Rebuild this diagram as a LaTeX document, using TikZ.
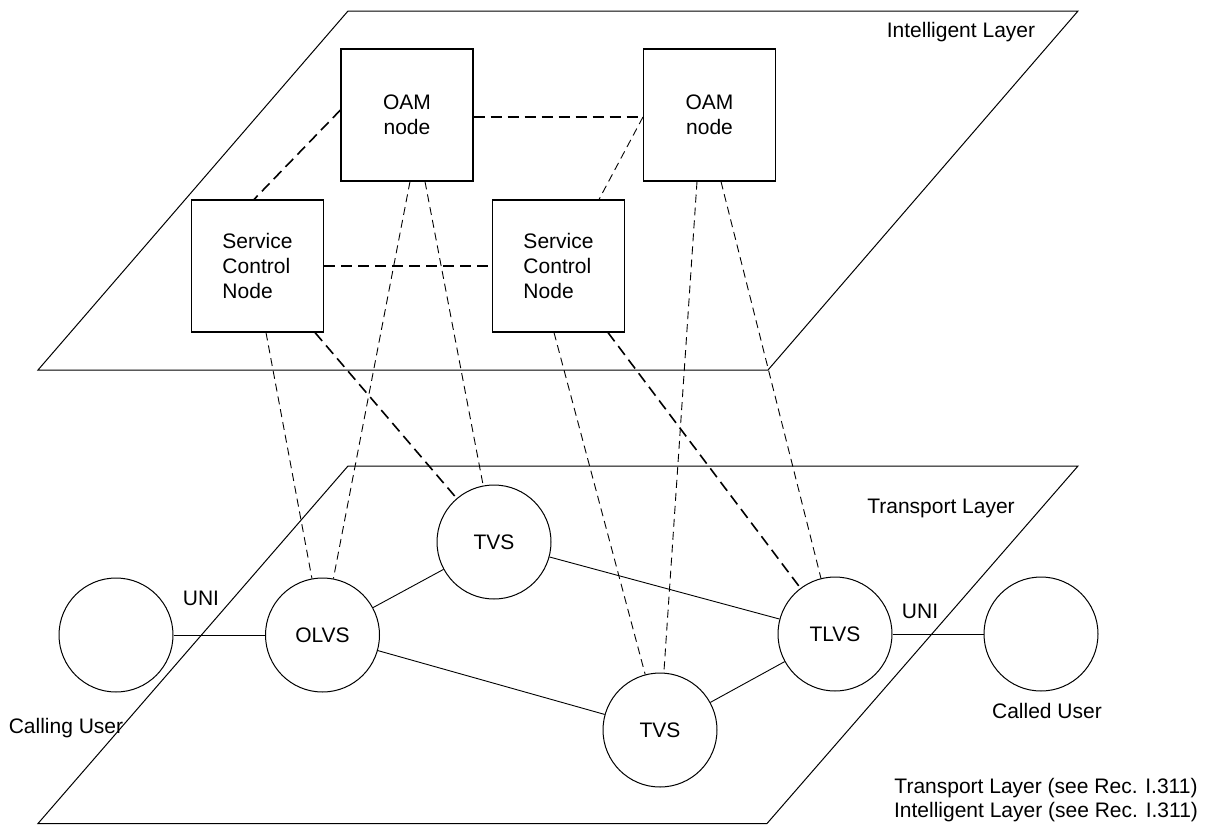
\documentclass[tikz,border=0pt]{standalone}
\usepackage{fontspec}
\setmainfont{Liberation Sans}
\begin{document}
\begin{tikzpicture}[x=1pt,y=-1pt,
 every node/.style={font=\fontsize{21}{25}\selectfont},
 box/.style={draw, line width=1.1pt, minimum width=132pt, minimum height=132pt, inner sep=0pt},
 sw/.style={draw, circle, line width=1pt, minimum size=114pt, inner sep=0pt},
 plane/.style={line width=1pt},
 link/.style={line width=0.9pt},
 thinlink/.style={dash pattern=on 8pt off 5pt, line width=0.9pt},
 thicklink/.style={dash pattern=on 11pt off 6pt, line width=1.6pt},
 lbl/.style={anchor=base, inner sep=0pt}]
\useasboundingbox (0,0) rectangle (1210,825);
% layers
\draw[plane] (348,11) -- (1078,11) -- (768,370) -- (38,370) -- cycle;
\draw[plane] (348,466) -- (1078,466) -- (767,823.5) -- (38,823.5) -- cycle;
% boxes
\node[box, align=center] (oam1) at (407,115) {OAM\\node};
\node[box, align=center] (oam2) at (709.5,115) {OAM\\node};
\node[box, align=left] (scn1) at (257.5,266) {Service\\Control\\Node};
\node[box, align=left] (scn2) at (558.5,266) {Service\\Control\\Node};
% switches
\node[sw] (caller) at (116,635) {};
\node[sw] (olvs) at (322.5,635) {OLVS};
\node[sw] (tvs1) at (494,542) {TVS};
\node[sw] (tvs2) at (660,730) {TVS};
\node[sw] (tlvs) at (835,634) {TLVS};
\node[sw] (called) at (1041,634) {};
% solid links
\draw[link] (caller) -- (olvs);
\draw[link] (olvs) -- (tvs1);
\draw[link] (olvs) -- (tvs2);
\draw[link] (tvs1) -- (tlvs);
\draw[link] (tvs2) -- (tlvs);
\draw[link] (tlvs) -- (called);
% dashed links in the intelligent layer
\draw[thicklink] ([yshift=-2pt]oam1.east) -- ([yshift=-2pt]oam2.west);
\draw[thicklink] (scn1) -- (scn2);
\draw[thicklink] ([yshift=5pt]oam1.west) -- ([xshift=-3.5pt]scn1.north);
\draw[thinlink] ([yshift=-2pt]oam2.west) -- ([xshift=40.5pt]scn2.north);
% dashed links between layers
\draw[thinlink] ([xshift=8.5pt]scn1.south) -- (olvs);
\draw[thicklink] ([xshift=57.5pt]scn1.south) -- (tvs1);
\draw[thinlink] ([xshift=3pt]oam1.south) -- (olvs);
\draw[thinlink] ([xshift=18pt]oam1.south) -- (tvs1);
\draw[thinlink] ([xshift=-4.5pt]scn2.south) -- (tvs2);
\draw[thicklink] ([xshift=49.5pt]scn2.south) -- (tlvs);
\draw[thinlink] ([xshift=-12.5pt]oam2.south) -- (tvs2);
\draw[thinlink] ([xshift=11.5pt]oam2.south) -- (tlvs);
% labels
\node[lbl] (il) at (961,37) {Intelligent Layer};
\node[lbl] (tl) at (941,513) {Transport Layer};
\node[lbl] (uni1) at (201,605) {UNI};
\node[lbl] (uni2) at (920,618) {UNI};
\node[lbl] (cing) at (66,733) {Calling User};
\node[lbl] (ced) at (1047,718) {Called User};
\node[lbl] (n1) at (1046,793) {Transport Layer (see Rec. I.311)};
\node[lbl] (n2) at (1046,817) {Intelligent Layer (see Rec. I.311)};
\end{tikzpicture}
\end{document}
